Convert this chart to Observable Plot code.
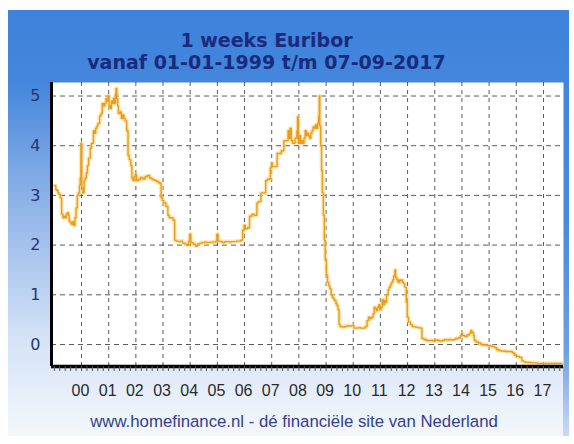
<!DOCTYPE html>
<html>
<head>
<meta charset="utf-8">
<script src="https://cdn.jsdelivr.net/npm/d3@7"></script>
<script src="https://cdn.jsdelivr.net/npm/@observablehq/plot@0.6"></script>
<style>
html,body{margin:0;padding:0;background:#fff;}
#wrap{position:relative;width:574px;height:444px;overflow:hidden;background:#fff;}
#panel{position:absolute;left:8px;top:10px;width:561px;height:426px;
  background:linear-gradient(to bottom,#3f82db 0%,#4386dc 17%,#7ea8e5 38%,#aac6ee 58%,#d6e4f7 78%,#f3f7fc 100%);}
#strip{position:absolute;left:563px;top:10px;width:6px;height:426px;
  background:linear-gradient(to bottom,#3f82db 0%,#4a8adc 50%,#6e9fe2 80%,#c9dbf4 100%);}
.t{position:absolute;left:0;width:533px;text-align:center;font-family:"DejaVu Sans",Verdana,sans-serif;
  font-weight:bold;font-size:19px;line-height:22px;color:#1a2a7e;white-space:nowrap;}
#chart{position:absolute;left:0;top:0;}
#cap{position:absolute;left:0;width:588px;top:413px;text-align:center;font-family:"Liberation Sans",Arial,sans-serif;
  font-size:16.8px;line-height:18px;color:#34408a;white-space:nowrap;}
</style>
</head>
<body>
<div id="wrap">
  <div id="panel"></div>
  <div id="strip"></div>
  <div id="chart"></div>
  <div class="t" id="t1" style="top:29px">1 weeks Euribor</div>
  <div class="t" id="t2" style="top:51px">vanaf 01-01-1999 t/m 07-09-2017</div>
  <div id="cap">www.homefinance.nl - dé financiële site van Nederland</div>
</div>
<script>
// ---- data ----
const dates = [
"1999-01-04","1999-01-20","1999-02-05","1999-02-20","1999-03-05","1999-03-20","1999-04-09","1999-04-25","1999-05-10","1999-05-25",
"1999-06-10","1999-06-25","1999-07-10","1999-07-20","1999-08-05","1999-08-20","1999-09-05","1999-09-20","1999-10-05","1999-10-20",
"1999-11-05","1999-11-20","1999-12-05","1999-12-15","1999-12-24",
"2000-01-05","2000-01-20","2000-02-05","2000-02-20","2000-03-05","2000-03-20","2000-04-05","2000-04-28","2000-05-15","2000-06-09",
"2000-06-25","2000-07-10","2000-07-25","2000-08-10","2000-09-01","2000-09-20","2000-10-06","2000-10-25","2000-11-10","2000-11-25",
"2000-12-10","2000-12-22",
"2001-01-05","2001-01-20","2001-02-05","2001-02-20","2001-03-05","2001-03-20","2001-04-03","2001-04-10","2001-04-20","2001-05-03",
"2001-05-11","2001-06-01","2001-06-20","2001-07-05","2001-07-25","2001-08-10","2001-08-31","2001-09-18","2001-10-05","2001-10-25",
"2001-11-09","2001-11-25","2001-12-10","2001-12-24",
"2002-01-10","2002-02-05","2002-03-05","2002-04-05","2002-05-05","2002-06-05","2002-07-05","2002-08-05","2002-09-05","2002-10-05",
"2002-11-05","2002-12-06","2002-12-20",
"2003-01-10","2003-02-10","2003-03-07","2003-03-25","2003-04-15","2003-05-15","2003-06-06","2003-06-25","2003-07-20","2003-08-20",
"2003-09-20","2003-10-20","2003-11-20","2003-12-10","2003-12-24",
"2004-01-10","2004-02-10","2004-03-10","2004-04-10","2004-05-10","2004-06-10","2004-07-10","2004-08-10","2004-09-10","2004-10-10",
"2004-11-10","2004-12-10","2004-12-24",
"2005-01-10","2005-02-10","2005-03-10","2005-04-10","2005-05-10","2005-06-10","2005-07-10","2005-08-10","2005-09-10","2005-10-10",
"2005-11-10","2005-12-06","2005-12-24",
"2006-01-10","2006-02-10","2006-03-09","2006-04-10","2006-05-10","2006-06-16","2006-07-10","2006-08-10","2006-09-10","2006-10-12",
"2006-11-10","2006-12-14","2006-12-28",
"2007-01-10","2007-02-10","2007-03-15","2007-04-10","2007-05-10","2007-06-14","2007-07-10","2007-08-09","2007-08-20","2007-09-05",
"2007-09-20","2007-10-10","2007-11-10","2007-12-05","2007-12-14","2007-12-24",
"2008-01-10","2008-01-25","2008-02-10","2008-02-25","2008-03-10","2008-03-25","2008-04-10","2008-04-25","2008-05-10","2008-05-25",
"2008-06-10","2008-06-25","2008-07-10","2008-07-25","2008-08-10","2008-08-25","2008-09-10","2008-09-22","2008-10-01","2008-10-08",
"2008-10-20","2008-11-01","2008-11-12","2008-11-25","2008-12-08","2008-12-20",
"2009-01-05","2009-01-20","2009-02-05","2009-02-20","2009-03-10","2009-03-25","2009-04-09","2009-04-25","2009-05-14","2009-05-28",
"2009-06-10","2009-06-24","2009-07-10","2009-08-10","2009-09-10","2009-10-10","2009-11-10","2009-12-10",
"2010-01-10","2010-02-10","2010-03-10","2010-04-10","2010-05-10","2010-06-10","2010-07-05","2010-07-25","2010-08-15","2010-09-05",
"2010-09-25","2010-10-10","2010-10-25","2010-11-10","2010-11-25","2010-12-10","2010-12-24",
"2011-01-10","2011-01-25","2011-02-10","2011-02-25","2011-03-10","2011-03-25","2011-04-14","2011-04-28","2011-05-15","2011-05-30",
"2011-06-15","2011-06-28","2011-07-14","2011-07-25","2011-08-10","2011-08-25","2011-09-10","2011-09-25","2011-10-10","2011-10-25",
"2011-11-10","2011-11-25","2011-12-15","2011-12-28",
"2012-01-15","2012-02-10","2012-03-05","2012-04-10","2012-05-10","2012-06-10","2012-07-12","2012-08-10","2012-09-10","2012-10-10",
"2012-11-10","2012-12-10",
"2013-01-10","2013-02-10","2013-03-10","2013-04-10","2013-05-10","2013-06-10","2013-07-10","2013-08-10","2013-09-10","2013-10-10",
"2013-11-10","2013-12-10","2013-12-24",
"2014-01-10","2014-02-10","2014-03-10","2014-04-10","2014-04-30","2014-05-15","2014-06-05","2014-06-15","2014-07-10","2014-08-10",
"2014-09-11","2014-10-10","2014-11-10","2014-12-10",
"2015-01-10","2015-02-10","2015-03-10","2015-04-10","2015-05-10","2015-06-10","2015-07-10","2015-08-10","2015-09-10","2015-10-10",
"2015-11-10","2015-12-10",
"2016-01-10","2016-02-10","2016-03-17","2016-04-10","2016-05-10","2016-06-10","2016-07-10","2016-08-10","2016-09-10","2016-10-10",
"2016-11-10","2016-12-10",
"2017-01-10","2017-02-10","2017-03-10","2017-04-10","2017-05-10","2017-06-10","2017-07-10","2017-08-10","2017-09-07"
];
const rates = [
3.20,3.12,3.10,3.05,3.02,2.95,2.62,2.55,2.58,2.55,
2.62,2.65,2.60,2.48,2.45,2.42,2.47,2.40,2.55,2.75,
3.00,3.05,3.20,3.35,4.05,
3.15,3.05,3.30,3.35,3.45,3.60,3.75,3.95,4.05,4.30,
4.25,4.35,4.40,4.45,4.60,4.65,4.85,4.80,4.85,4.95,
4.90,5.00,
4.80,4.75,4.90,4.85,4.95,4.85,5.05,5.15,4.95,4.80,
4.65,4.68,4.55,4.62,4.55,4.50,4.30,3.80,3.72,3.60,
3.35,3.30,3.38,3.42,
3.30,3.32,3.36,3.33,3.38,3.40,3.35,3.32,3.30,3.28,
3.25,2.95,2.90,
2.85,2.78,2.60,2.55,2.55,2.50,2.10,2.08,2.07,2.08,
2.04,2.02,2.00,2.08,2.22,
2.05,2.02,1.98,2.02,2.04,2.05,2.06,2.05,2.05,2.06,
2.06,2.08,2.22,
2.08,2.07,2.05,2.07,2.07,2.06,2.07,2.07,2.08,2.08,
2.10,2.30,2.40,
2.33,2.35,2.58,2.62,2.60,2.85,2.88,3.05,3.05,3.30,
3.33,3.55,3.65,
3.58,3.58,3.85,3.84,3.90,4.10,4.10,4.30,4.15,4.35,
4.10,4.05,4.15,4.30,4.58,4.05,
4.20,4.05,4.10,4.05,4.15,4.30,4.20,4.25,4.20,4.15,
4.25,4.30,4.38,4.35,4.42,4.35,4.45,4.60,5.00,4.40,
4.00,3.50,3.05,2.60,2.10,1.70,
1.40,1.25,1.18,1.12,1.00,0.95,0.92,0.88,0.82,0.78,
0.70,0.40,0.36,0.35,0.36,0.38,0.37,0.38,
0.33,0.33,0.34,0.33,0.33,0.36,0.48,0.55,0.52,0.55,
0.62,0.75,0.72,0.68,0.75,0.80,0.70,
0.75,0.90,0.80,0.88,0.85,1.00,1.10,1.15,1.20,1.25,
1.30,1.38,1.50,1.35,1.30,1.25,1.30,1.28,1.30,1.25,
1.22,1.15,0.85,0.55,
0.45,0.40,0.36,0.35,0.34,0.33,0.12,0.10,0.08,0.08,
0.08,0.07,
0.09,0.08,0.07,0.08,0.10,0.09,0.10,0.09,0.10,0.12,
0.13,0.17,0.22,
0.18,0.16,0.19,0.22,0.28,0.24,0.18,0.08,0.05,0.03,
0.00,-0.01,-0.01,-0.02,
-0.03,-0.04,-0.06,-0.10,-0.12,-0.13,-0.13,-0.14,-0.14,-0.14,
-0.17,-0.22,
-0.24,-0.26,-0.33,-0.35,-0.36,-0.36,-0.37,-0.37,-0.37,-0.38,
-0.38,-0.38,
-0.38,-0.38,-0.38,-0.38,-0.38,-0.38,-0.38,-0.38,-0.38
];
const yTicks = [0, 1, 2, 3, 4, 5];
const tickYears = [2000,2001,2002,2003,2004,2005,2006,2007,2008,2009,2010,2011,2012,2013,2014,2015,2016,2017];
const xDomain = [new Date("1998-11-24"), new Date("2017-09-27")];
const yDomain = [-0.443, 5.272];

// ---- build ----
const data = dates.map((d, i) => ({date: new Date(d), rate: rates[i]}));
const yearTicks = tickYears.map(y => new Date(Date.UTC(y, 0, 1)));
const minorTicks = [];
for (let y = 1998; y <= 2017; y++) {
  const a = Date.UTC(y, 0, 1), b = Date.UTC(y + 1, 0, 1);
  for (let k = 0; k < 5; k++) {
    const t = new Date(a + (b - a) * k / 5);
    if (t > xDomain[0] && t < xDomain[1]) minorTicks.push(t);
  }
}
const fmt = d3.utcFormat("%y");

const chart = Plot.plot({
  width: 574, height: 444,
  marginLeft: 51, marginRight: 11, marginTop: 82, marginBottom: 78,
  style: {background: "transparent", fontFamily: "'Liberation Sans', Arial, sans-serif", overflow: "visible"},
  x: {type: "utc", domain: xDomain, label: null},
  y: {domain: yDomain, label: null},
  marks: [
    Plot.frame({fill: "white", stroke: "none"}),
    Plot.gridY(yTicks, {stroke: "#5a5a5a", strokeOpacity: 1, strokeDasharray: "5,4"}),
    Plot.gridX(yearTicks, {stroke: "#5a5a5a", strokeOpacity: 1, strokeDasharray: "4,4"}),
    Plot.lineY(data, {x: "date", y: "rate", curve: "step-after", stroke: "#fbd57e", strokeWidth: 4, strokeOpacity: 0.6}),
    Plot.lineY(data, {x: "date", y: "rate", curve: "step-after", stroke: "#eb9c1a", strokeWidth: 1.4}),
    Plot.ruleX([xDomain[0]], {stroke: "black", strokeWidth: 3}),
    Plot.ruleY([yDomain[0]], {stroke: "black", strokeWidth: 3.5}),
    Plot.axisY(yTicks, {tickSize: 0, tickPadding: 11, fontSize: 16, fill: "#24356e", tickFormat: d => String(d),
      fontFamily: "'DejaVu Sans', Verdana, sans-serif", label: null}),
    Plot.axisX(minorTicks, {tickSize: 5, tickFormat: () => "", stroke: "#555", label: null}),
    Plot.axisX(yearTicks, {tickSize: 0, tickPadding: 18.5, tickFormat: d => fmt(d), fontSize: 16,
      fill: "#2a2a2a", dx: -1, label: null})
  ]
});
document.getElementById("chart").appendChild(chart);
</script>
</body>
</html>
